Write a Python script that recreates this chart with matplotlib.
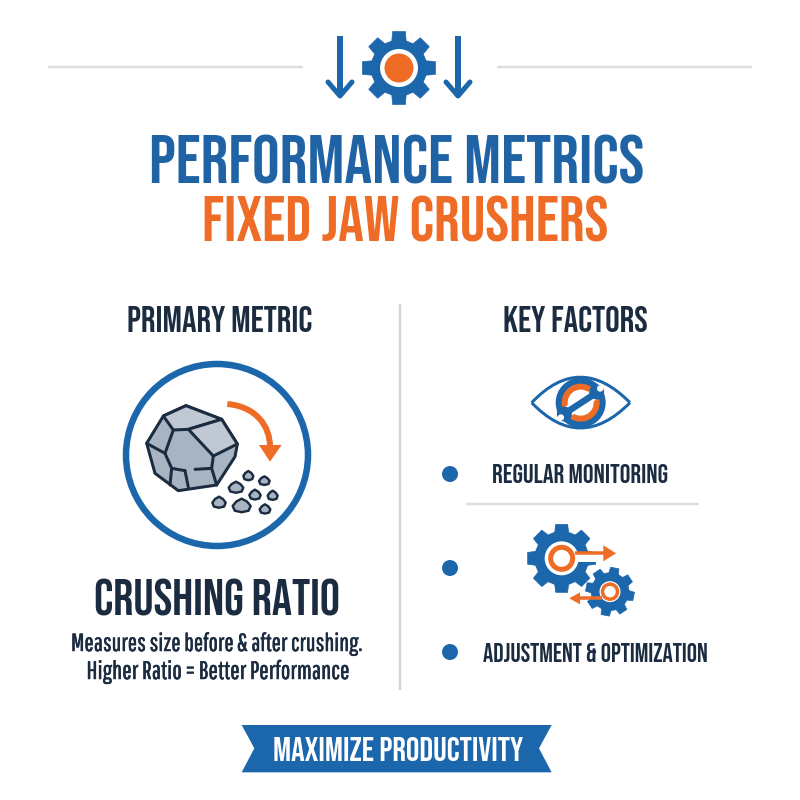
import numpy as np
import matplotlib
matplotlib.use("Agg")
import matplotlib.pyplot as plt
import matplotlib.patheffects as pe
from matplotlib import font_manager as fm
from matplotlib.patches import Polygon, Circle, PathPatch
from matplotlib.path import Path

BLUE = "#1C66AC"
TITLE_BLUE = "#1F63A5"
ORANGE = "#EE6C25"
NAVY = "#1B2B40"
GREY = "#DEDEDE"
ROCK = "#A9B4C2"
ROCK_LIGHT = "#BFC8D3"

title_lines = ["PERFORMANCE METRICS", "FIXED JAW CRUSHERS"]
section_heads = ["PRIMARY METRIC", "KEY FACTORS"]
metric_name = "CRUSHING RATIO"
metric_notes = ["Measures size before & after crushing.", "Higher Ratio = Better Performance"]
factor_labels = ["REGULAR MONITORING", "ADJUSTMENT & OPTIMIZATION"]
banner_text = "MAXIMIZE PRODUCTIVITY"


def pick(*names):
    for n in names:
        try:
            fm.findfont(n, fallback_to_default=False)
            return n
        except ValueError:
            pass
    return "Liberation Sans"


CAPS_FONT = pick("Bebas Neue", "Oswald", "Roboto Condensed")
BODY_FONT = pick("Pathway Gothic One", "Oswald", "Roboto Condensed", "Archivo Narrow")

fig = plt.figure(figsize=(8, 8), dpi=100, facecolor="white")
ax = fig.add_axes([0, 0, 1, 1])
ax.set_xlim(0, 800)
ax.set_ylim(800, 0)
ax.axis("off")
renderer = fig.canvas.get_renderer()
PX = 0.72


def fit_text(s, x0, x1, base, color, family=CAPS_FONT, weight="bold", stroke=0.0):
    t = ax.text((x0 + x1) / 2, base, s, ha="center", va="baseline", color=color,
                family=family, weight=weight, fontsize=20, zorder=10)
    w = t.get_window_extent(renderer).width
    t.set_fontsize(20 * (x1 - x0) / w)
    if stroke:
        t.set_path_effects([pe.withStroke(linewidth=stroke, foreground=color)])
    return t


def line(xs, ys, c, px, cap="butt", z=2):
    ax.plot(xs, ys, color=c, lw=px * PX, solid_capstyle=cap, solid_joinstyle="round", zorder=z)


def gear(cx, cy, ro, ri, n, color=BLUE, z=3, phase=0.0):
    pts = []
    step = 2 * np.pi / n
    for i in range(n):
        a = phase + i * step - np.pi / 2
        for da, r in [(-0.30, ri), (-0.20, ro), (0.20, ro), (0.30, ri)]:
            pts.append((cx + r * np.cos(a + da * step * 1.1), cy + r * np.sin(a + da * step * 1.1)))
    ax.add_patch(Polygon(pts, closed=True, fc=color, ec=color, lw=0.5, joinstyle="round", zorder=z))


def circ(cx, cy, r, fc="none", ec="none", px=0, z=3):
    ax.add_patch(Circle((cx, cy), r, fc=fc, ec=ec, lw=px * PX, zorder=z))


def down_arrow(x, y0, y1, hw, hh):
    line([x, x], [y0, y1 - 1], BLUE, 6)
    line([x - hw, x, x + hw], [y1 - hh, y1, y1 - hh], BLUE, 5, cap="round")


# top rules and icon
line([48, 303], [67, 67], GREY, 2.5)
line([497, 752], [67, 67], GREY, 2.5)
down_arrow(340, 36, 96, 12, 14)
down_arrow(458, 36, 96, 12, 14)
gear(399, 68, 37, 28, 8)
circ(399, 68, 19, fc="white")
circ(399, 68, 14.5, fc=ORANGE, z=4)

# titles
fit_text(title_lines[0], 150, 643, 183, TITLE_BLUE)
fit_text(title_lines[1], 202, 608, 242, ORANGE)

# section heads and dividers
fit_text(section_heads[0], 127, 312, 332, NAVY)
fit_text(section_heads[1], 503, 648, 332, NAVY)
line([400, 400], [304, 690], "#D4D4D4", 2.5)
line([466, 699], [504, 504], GREY, 2.5)


def zl(x, y, ox=110, oy=350):
    return (x / 3 + ox, y / 3 + oy)


# primary metric ring
circ(217, 455, 91, ec=BLUE, px=6.5)
# rock body
outline = [(110, 280), (160, 198), (228, 167), (335, 208), (382, 282), (375, 320),
           (320, 405), (205, 422), (135, 370)]
ax.add_patch(Polygon([zl(*p) for p in outline], closed=True, fc=ROCK, ec=NAVY,
                     lw=3 * PX, joinstyle="round", zorder=3))
top_facet = [(160, 198), (228, 167), (335, 208), (235, 238), (190, 240)]
ax.add_patch(Polygon([zl(*p) for p in top_facet], closed=True, fc=ROCK_LIGHT, ec=NAVY,
                     lw=3 * PX, joinstyle="round", zorder=4))
right_facet = [(335, 208), (382, 282), (310, 318), (235, 238)]
ax.add_patch(Polygon([zl(*p) for p in right_facet], closed=True, fc=ROCK_LIGHT, ec=NAVY,
                     lw=3 * PX, joinstyle="round", zorder=4))
for seg in [[(190, 240), (165, 310), (185, 355), (225, 362)],
            [(110, 280), (165, 310)],
            [(185, 355), (180, 405)], [(225, 362), (235, 412)],
            [(255, 358), (305, 355)], [(310, 318), (305, 355), (320, 405)]]:
    pts = [zl(*p) for p in seg]
    line([p[0] for p in pts], [p[1] for p in pts], NAVY, 3, cap="round", z=5)

# crushed fragments
fragments_xyr = [(415, 378, 15, 15), (463, 393, 16, 14), (378, 413, 22, 18), (435, 435, 17, 16),
                 (488, 437, 15, 15), (327, 458, 20, 18), (395, 468, 27, 22), (465, 478, 16, 15)]
for x, y, rx, ry in fragments_xyr:
    th = np.radians([0, 40, 90, 140, 180, 225, 270, 315])
    scale = [1.0, 1.0, 0.85, 1.0, 1.0, 0.85, 1.0, 0.85]
    pts = [zl(x + s * rx * np.cos(a), y + s * ry * np.sin(a)) for a, s in zip(th, scale)]
    ax.add_patch(Polygon(pts, closed=True, fc=ROCK, ec=NAVY, lw=2.4 * PX, joinstyle="round", zorder=3))

# orange curved arrow
verts = [zl(352, 162), zl(440, 170), zl(480, 230), zl(480, 290)]
ax.add_patch(PathPatch(Path(verts, [Path.MOVETO, Path.CURVE4, Path.CURVE4, Path.CURVE4]),
                       fc="none", ec=ORANGE, lw=6 * PX, capstyle="butt", zorder=5))
ax.add_patch(Polygon([zl(447, 285), zl(515, 285), zl(480, 335)], closed=True, fc=ORANGE, ec="none", zorder=5))

# metric text
fit_text(metric_name, 94, 340, 616, NAVY)
fit_text(metric_notes[0], 72, 362, 651, NAVY, family=BODY_FONT, weight="normal", stroke=0.35)
fit_text(metric_notes[1], 87, 349, 679, NAVY, family=BODY_FONT, weight="normal", stroke=0.35)


def zr(x, y):
    return zl(x, y, 430, 370)


# eye icon
eye_top = Path([zr(305, 98), zr(450, -55), zr(600, 98)], [Path.MOVETO, Path.CURVE3, Path.CURVE3])
eye_bot = Path([zr(305, 98), zr(450, 250), zr(600, 98)], [Path.MOVETO, Path.CURVE3, Path.CURVE3])
for p in (eye_top, eye_bot):
    ax.add_patch(PathPatch(p, fc="none", ec=BLUE, lw=3 * PX, zorder=3))
ec, ey = zr(452, 98)
circ(ec, ey, 25, fc=BLUE)
circ(ec, ey, 19, fc=ORANGE, z=4)
circ(ec, ey, 13, fc="white", z=5)
p0, p1 = zr(405, 130), zr(500, 68)
line([p0[0], p1[0]], [p0[1], p1[1]], "white", 11, z=6)
line([p0[0], p1[0]], [p0[1], p1[1]], BLUE, 6.5, z=7)
for px_, py_ in [zr(403, 132), zr(500, 66)]:
    circ(px_, py_, 7.5, fc=BLUE, z=7)
    circ(px_ + (3.5 if px_ > ec else -3.5), py_ + (-3.5 if px_ > ec else 3.5), 3.2, fc="white", z=8)

# bullets and factor labels
for y in (474, 568, 652):
    circ(450, y, 8, fc=BLUE)
fit_text(factor_labels[0], 493, 668, 483, NAVY)
fit_text(factor_labels[1], 482, 708, 662, NAVY)

# gears icon
gx, gy = zr(395, 565)
gear(gx, gy, 34.5, 27, 8)
circ(gx, gy, 17, fc="white", z=4)
a0 = zr(440, 556)
ax.add_patch(Polygon([(gx + 5, a0[1] - 1), (gx + 35, a0[1] - 1), (gx + 35, a0[1] + 7), (gx + 5, a0[1] + 7)],
                     closed=True, fc="white", ec="none", zorder=4))
circ(gx, gy, 11, ec=ORANGE, px=5, z=5)
s0, s1 = zr(435, 550), zr(525, 550)
line([s0[0], s1[0]], [s0[1], s1[1]], ORANGE, 3.5, z=5)
ax.add_patch(Polygon([zr(520, 526), zr(558, 550), zr(520, 574)], closed=True, fc=ORANGE, ec="none", zorder=5))

hx, hy = zr(540, 665)
gear(hx, hy, 24.5, 19, 8, phase=0.2)
circ(hx, hy, 10.5, fc="white", z=4)
circ(hx, hy, 7.5, ec=ORANGE, px=3.5, z=5)
s0, s1 = zr(515, 685), zr(445, 685)
line([s0[0], s1[0]], [s0[1], s1[1]], ORANGE, 3.5, z=5)
ax.add_patch(Polygon([zr(450, 667), zr(418, 685), zr(450, 703)], closed=True, fc=ORANGE, ec="none", zorder=5))


def zb(x, y):
    return zl(x, y, 230, 715)


# banner
ribbon = [(35, 30), (965, 30), (927, 100), (965, 172), (35, 172), (73, 100)]
ax.add_patch(Polygon([zb(*p) for p in ribbon], closed=True, fc=BLUE, ec="none", zorder=3))
fit_text(banner_text, 273, 523, 761, "white")

fig.savefig("out.png", dpi=100, facecolor="white")
